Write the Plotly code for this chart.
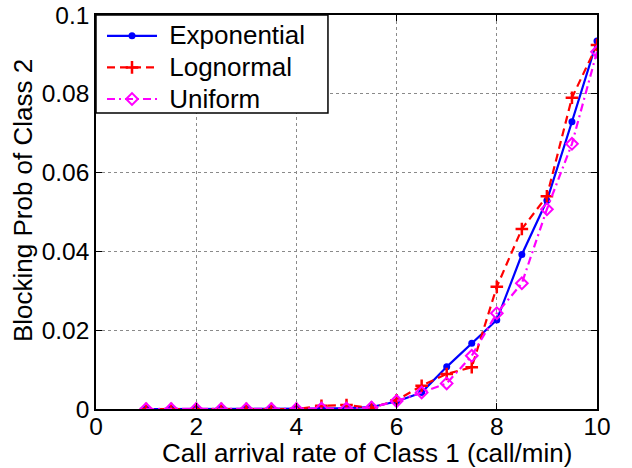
import plotly.graph_objects as go

x_vals = [1, 1.5, 2, 2.5, 3, 3.5, 4, 4.5, 5, 5.5, 6, 6.5, 7, 7.5, 8, 8.5, 9, 9.5, 10]
exponential = [0, 0, 0, 0, 0, 0, 0, 0.0001, 0.0002, 0.0005, 0.0019, 0.0042, 0.0107, 0.0167, 0.0226, 0.0392, 0.0529, 0.0729, 0.0934]
lognormal = [0, 0, 0, 0, 0, 0, 0, 0.0008, 0.0010, 0.0003, 0.0022, 0.0059, 0.0089, 0.0106, 0.0310, 0.0457, 0.0540, 0.0790, 0.0924]
uniform = [0, 0, 0, 0, 0, 0, 0, 0.0001, 0.0001, 0.0004, 0.0020, 0.0042, 0.0065, 0.0135, 0.0243, 0.0319, 0.0507, 0.0673, 0.0907]
series_names = ["Exponential", "Lognormal", "Uniform"]

x_ticks = [0, 2, 4, 6, 8, 10]
x_tick_labels = ["0", "2", "4", "6", "8", "10"]
y_ticks = [0, 0.02, 0.04, 0.06, 0.08, 0.1]
y_tick_labels = ["0", "0.02", "0.04", "0.06", "0.08", "0.1"]

FONT = "Liberation Sans, Arial, Helvetica, sans-serif"


def legend_label(name):
    return "<span style='font-size:26px'>&nbsp;" + name + "</span>"


fig = go.Figure()
fig.add_trace(go.Scatter(x=x_vals, y=exponential, name=legend_label(series_names[0]), mode="lines+markers",
                         line=dict(color="#0000ff", width=2.2, dash="solid"),
                         marker=dict(symbol="circle", size=7, color="#0000ff")))
fig.add_trace(go.Scatter(x=x_vals, y=lognormal, name=legend_label(series_names[1]), mode="lines+markers",
                         line=dict(color="#ff0000", width=2.2, dash="8px,5px"),
                         marker=dict(symbol="cross-thin", size=9, color="#ff0000",
                                     line=dict(color="#ff0000", width=2.5))))
fig.add_trace(go.Scatter(x=x_vals, y=uniform, name=legend_label(series_names[2]), mode="lines+markers",
                         line=dict(color="#ff00ff", width=2.2, dash="8px,4px,2px,4px"),
                         marker=dict(symbol="diamond-open", size=9, color="#ff00ff",
                                     line=dict(color="#ff00ff", width=2))))

axis_common = dict(showline=True, linecolor="black", linewidth=1.5, mirror="ticks",
                   ticks="inside", ticklen=6, tickcolor="black", tickwidth=1,
                   showgrid=True, gridcolor="#8a8a8a", griddash="dot", gridwidth=1,
                   zeroline=False, automargin=False, ticklabeloverflow="allow",
                   tickfont=dict(family=FONT, size=24.5, color="black"))

fig.update_xaxes(range=[0, 10], tickvals=x_ticks, ticktext=x_tick_labels,
                 ticklabelstandoff=-5, **axis_common)
fig.update_yaxes(range=[0, 0.1], tickvals=y_ticks, ticktext=y_tick_labels, **axis_common)

# legend frame (MATLAB-style box)
fig.add_shape(type="rect", xref="paper", yref="paper", x0=0, x1=0.463, y0=0.751, y1=1,
              line=dict(color="black", width=1.5), fillcolor="white", layer="above")

fig.update_layout(
    width=632, height=468,
    margin=dict(l=96, r=35, t=15, b=59),
    plot_bgcolor="white", paper_bgcolor="white",
    font=dict(family=FONT, size=25, color="black"),
    showlegend=True,
    legend=dict(x=0, y=1, xanchor="left", yanchor="top",
                bgcolor="rgba(0,0,0,0)", borderwidth=0,
                font=dict(family=FONT, size=22, color="black"),
                tracegroupgap=0, itemwidth=50, indentation=6),
    annotations=[
        dict(text="Call arrival rate of Class 1 (call/min)", xref="paper", yref="paper",
             x=0.541, y=-0.112, xanchor="center", yanchor="middle", showarrow=False,
             font=dict(family=FONT, size=26, color="black")),
        dict(text="Blocking Prob of Class 2", xref="paper", yref="paper",
             x=-0.146, y=0.53, xanchor="center", yanchor="middle", showarrow=False,
             textangle=-90, font=dict(family=FONT, size=26, color="black")),
    ],
)

fig.write_html("out.html", config={"displayModeBar": False},
               post_script="document.body.style.margin='0';")
